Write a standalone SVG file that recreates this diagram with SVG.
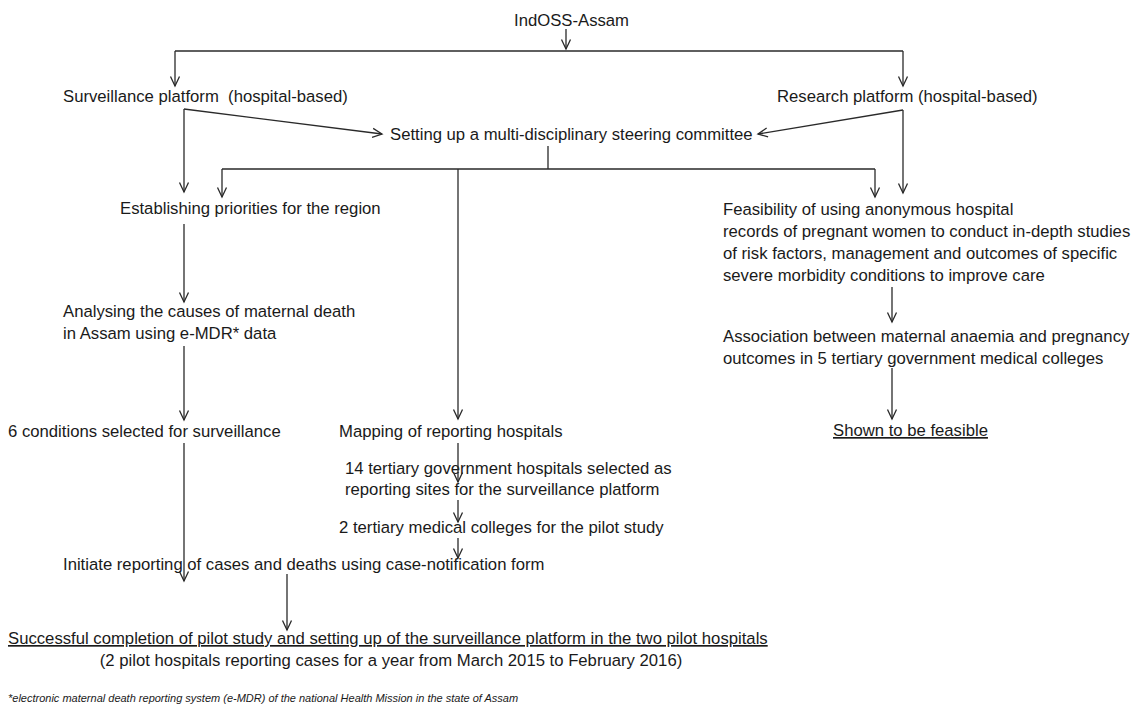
<svg xmlns="http://www.w3.org/2000/svg" width="1132" height="705" viewBox="0 0 1132 705">
<style>
text{font-family:"Liberation Sans",Arial,sans-serif;font-size:16.7px;fill:#1a1a1a}
.u{text-decoration:underline}
.fn{font-size:11px;font-style:italic}
.c path{fill:none;stroke:#2a2a2a;stroke-width:1.3}
.a{marker-end:url(#ah)}
</style>
<defs>
<marker id="ah" markerUnits="userSpaceOnUse" markerWidth="12" markerHeight="12" viewBox="0 0 12 12" refX="10" refY="6" orient="auto">
<path d="M0.5,1.5 L10,6 L0.5,10.5" fill="none" stroke="#2a2a2a" stroke-width="1.3"/>
</marker>
</defs>
<rect width="1132" height="705" fill="#fff"/>
<g id="n-indoss"><text x="514" y="26">IndOSS-Assam</text></g>
<g id="n-surveillance"><text x="63" y="102">Surveillance platform&#160; (hospital-based)</text></g>
<g id="n-research"><text x="777" y="102">Research platform (hospital-based)</text></g>
<g id="n-steering"><text x="390" y="140">Setting up a multi-disciplinary steering committee</text></g>
<g id="n-priorities"><text x="120" y="214">Establishing priorities for the region</text></g>
<g id="n-feasibility"><text x="723" y="215">Feasibility of using anonymous hospital</text><text x="723" y="237">records of pregnant women to conduct in-depth studies</text><text x="723" y="259">of risk factors, management and outcomes of specific</text><text x="723" y="281">severe morbidity conditions to improve care</text></g>
<g id="n-analysing"><text x="63" y="317">Analysing the causes of maternal death</text><text x="63" y="339">in Assam using e-MDR* data</text></g>
<g id="n-association"><text x="723" y="342">Association between maternal anaemia and pregnancy</text><text x="723" y="364">outcomes in 5 tertiary government medical colleges</text></g>
<g id="n-conditions"><text x="8" y="437">6 conditions selected for surveillance</text></g>
<g id="n-mapping"><text x="339" y="437">Mapping of reporting hospitals</text></g>
<g id="n-feasible"><text class="u" x="833" y="436">Shown to be feasible</text></g>
<g id="n-14hosp"><text x="345" y="474">14 tertiary government hospitals selected as</text><text x="345" y="495">reporting sites for the surveillance platform</text></g>
<g id="n-2colleges"><text x="339" y="533">2 tertiary medical colleges for the pilot study</text></g>
<g id="n-initiate"><text x="63" y="570">Initiate reporting of cases and deaths using case-notification form</text></g>
<g id="n-success"><text class="u" x="8" y="644">Successful completion of pilot study and setting up of the surveillance platform in the two pilot hospitals</text><text x="391" y="666" text-anchor="middle">(2 pilot hospitals reporting cases for a year from March 2015 to February 2016)</text></g>
<g id="footnote"><text class="fn" x="8" y="702">*electronic maternal death reporting system (e-MDR) of the national Health Mission in the state of Assam</text></g>
<g id="connectors" class="c">
<path class="a" d="M566,29 V49"/>
<path d="M175,51 H903"/>
<path class="a" d="M175,51 V86"/>
<path class="a" d="M903,51 V86"/>
<path class="a" d="M184,109 L382,134"/>
<path class="a" d="M184,109 V192"/>
<path class="a" d="M903,110 L758,134"/>
<path class="a" d="M903,110 V193"/>
<path d="M548,146 V169 M222,169 H875"/>
<path class="a" d="M222,169 V197"/>
<path class="a" d="M875,169 V197"/>
<path class="a" d="M458,169 V419"/>
<path class="a" d="M184,224 V302"/>
<path class="a" d="M184,346 V420"/>
<path class="a" d="M184,443 V581"/>
<path class="a" d="M458,443 V482"/>
<path class="a" d="M458,500 V522"/>
<path class="a" d="M458,538 V558"/>
<path class="a" d="M287,574 V630"/>
<path class="a" d="M892,287 V322"/>
<path class="a" d="M892,368 V419"/>
</g>
</svg>
